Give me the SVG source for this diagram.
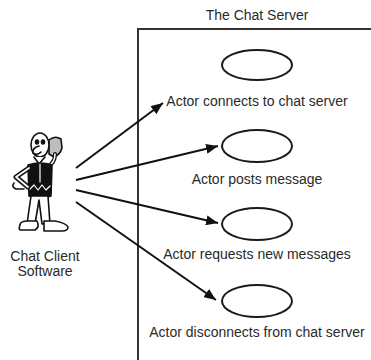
<svg xmlns="http://www.w3.org/2000/svg" width="371" height="360" viewBox="0 0 371 360">
  <style>
    .lbl { font-family: "Liberation Sans", Arial, sans-serif; font-size: 14px; fill: #2a2a2a; text-anchor: middle; }
    .uc { fill: #fff; stroke: #1a1a1a; stroke-width: 2; }
    .edge { fill: none; stroke: #111; stroke-width: 2; }
    .ink { stroke: #111; stroke-width: 1.6; stroke-linejoin: round; stroke-linecap: round; }
  </style>
  <defs>
    <marker id="arrow" viewBox="0 0 12 10" refX="12" refY="5" markerWidth="12" markerHeight="10" markerUnits="userSpaceOnUse" orient="auto">
      <path d="M0,0 L12,5 L0,10 z" fill="#111"/>
    </marker>
  </defs>
  <rect width="371" height="360" fill="#fff"/>

  <!-- system boundary -->
  <g id="system">
    <path d="M138,360 V29 H371" fill="none" stroke="#333" stroke-width="2"/>
    <text class="lbl" x="257" y="20">The Chat Server</text>
  </g>

  <!-- actor -->
  <g id="actor" class="ink" fill="#fff">
    <!-- handset held at the ear -->
    <path d="M49,140 q6,-5 12,-1 l1,9 q-2,7 -8,9 l-5,-3 z" fill="#bdbdbd"/>
    <!-- raised arm -->
    <path d="M48,166 q7,-3 7,-12" fill="none" stroke-width="4"/>
    <path d="M48,166 q7,-3 7,-12" fill="none" stroke="#fff" stroke-width="1.5"/>
    <!-- head -->
    <ellipse cx="40" cy="145" rx="9" ry="12"/>
    <ellipse cx="37" cy="142" rx="1.5" ry="2" fill="#111"/>
    <ellipse cx="43" cy="142" rx="1.5" ry="2" fill="#111"/>
    <path d="M39,146 q-7,2 -6,7 q4,3 8,-1"/>
    <!-- collar -->
    <path d="M34,157 l5,7 l6,-7" fill="#fff"/>
    <!-- vest -->
    <path d="M28,165 q12,-4 24,0 l-1,31 q-11,4 -22,0 z" fill="#111"/>
    <path d="M40,164 v18" stroke="#fff" stroke-width="1.2"/>
    <path d="M30,189 l4,-4 l4,5 l4,-5 l4,5 l4,-4" stroke="#fff" stroke-width="1.2" fill="none"/>
    <!-- arm on hip -->
    <path d="M29,168 l-13,9 l12,10" fill="none" stroke-width="5"/>
    <path d="M29,168 l-13,9 l12,10" fill="none" stroke="#fff" stroke-width="1.8"/>
    <path d="M14,183 q-3,4 2,6 l8,0" fill="#fff"/>
    <!-- legs -->
    <path d="M31,196 l-4,28 h8 l4,-24 l3,24 h8 l-2,-28 z"/>
    <!-- shoes -->
    <path d="M20,225 q0,-4 8,-4 h9 q3,6 -2,9 l-14,0 q-3,0 -1,-5 z"/>
    <path d="M44,221 h11 q11,2 13,6 q0,4 -6,4 h-18 z"/>
    <text class="lbl" x="45" y="261" stroke="none">Chat Client</text>
    <text class="lbl" x="45" y="276" stroke="none">Software</text>
  </g>

  <!-- use cases -->
  <g id="uc-connect">
    <ellipse class="uc" cx="257" cy="65" rx="35" ry="15"/>
    <text class="lbl" x="257" y="106">Actor connects to chat server</text>
  </g>
  <g id="uc-post">
    <ellipse class="uc" cx="257" cy="146" rx="35" ry="16"/>
    <text class="lbl" x="257" y="184">Actor posts message</text>
  </g>
  <g id="uc-request">
    <ellipse class="uc" cx="257" cy="224" rx="35" ry="16"/>
    <text class="lbl" x="257" y="259">Actor requests new messages</text>
  </g>
  <g id="uc-disconnect">
    <ellipse class="uc" cx="257" cy="301" rx="35" ry="16"/>
    <text class="lbl" x="257" y="337">Actor disconnects from chat server</text>
  </g>

  <!-- associations -->
  <g id="connectors">
    <line class="edge" x1="76" y1="168" x2="163" y2="103" marker-end="url(#arrow)"/>
    <line class="edge" x1="76" y1="180" x2="218" y2="146" marker-end="url(#arrow)"/>
    <line class="edge" x1="76" y1="190" x2="218" y2="223" marker-end="url(#arrow)"/>
    <line class="edge" x1="76" y1="202" x2="216" y2="300" marker-end="url(#arrow)"/>
  </g>
</svg>
